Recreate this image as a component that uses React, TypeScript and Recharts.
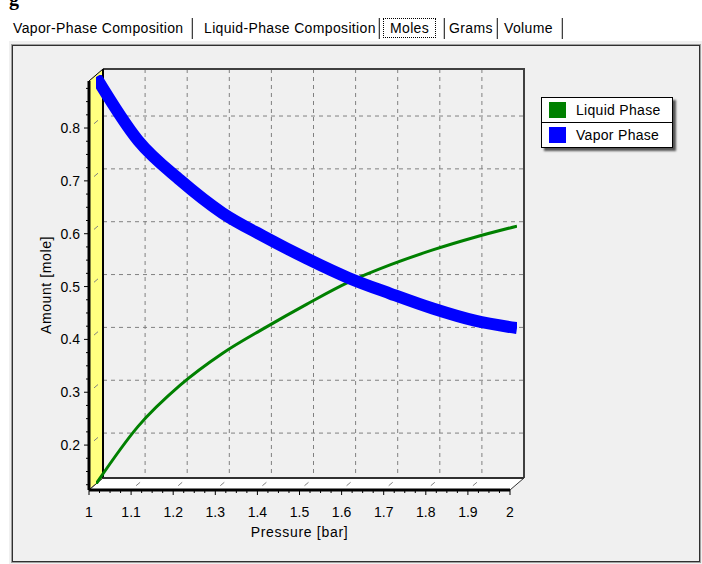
import { CartesianGrid, Legend, Line, LineChart, XAxis, YAxis } from "recharts";

// pressure [bar] and amounts [mole]
const pressure = [1, 1.1, 1.2, 1.3, 1.4, 1.5, 1.6, 1.7, 1.8, 1.9, 2];
const liquidPhase = [0.115, 0.224, 0.302, 0.362, 0.41, 0.455, 0.497, 0.53, 0.558, 0.582, 0.603];
const vaporPhase = [0.885, 0.765, 0.69, 0.628, 0.583, 0.542, 0.505, 0.475, 0.447, 0.424, 0.41];

const yMajor = [0.2, 0.3, 0.4, 0.5, 0.6, 0.7, 0.8];
const xGrid = [1.1, 1.2, 1.3, 1.4, 1.5, 1.6, 1.7, 1.8, 1.9];
const tabs = ["Vapor-Phase Composition", "Liquid-Phase Composition", "Moles", "Grams", "Volume"];

const X_DOMAIN: [number, number] = [1, 2];
const Y_DOMAIN: [number, number] = [0.115, 0.889];

const rows = pressure.map((p, i) => ({ pressure: p, liquid: liquidPhase[i], vapor: vaporPhase[i] }));

// minor ticks every 0.025
const xMinor: number[] = [];
for (let i = 0; i <= 40; i++) xMinor.push(Math.round((1 + i * 0.025) * 1000) / 1000);
const yMinor: number[] = [];
for (let i = 5; i <= 35; i++) yMinor.push(Math.round(i * 25) / 1000);

const W = 702;
const H = 564;
const margin = { top: 81, right: 192, bottom: 44, left: 39 };
const PL = 89, PR = 510, PT = 81, PB = 490; // front plot box
const DX = 14, DY = -12; // depth of the 3d box
const FONT = "'Liberation Sans', Arial, sans-serif";

const isMajor = (v: number) => Math.abs(v * 10 - Math.round(v * 10)) < 1e-6;

const XTick = (props: any) => {
  const { x, payload } = props;
  const major = isMajor(payload.value);
  return (
    <g>
      <line x1={x} x2={x} y1={PB} y2={PB + (major ? 5 : 3)} stroke="#000" />
      {major && (
        <text x={x} y={PB + 27} textAnchor="middle" fontSize={14} fontFamily={FONT} fill="#000">
          {String(payload.value)}
        </text>
      )}
    </g>
  );
};

const YTick = (props: any) => {
  const { y, payload } = props;
  const major = isMajor(payload.value);
  return (
    <g>
      <line x1={PL - (major ? 5 : 3)} x2={PL} y1={y} y2={y} stroke="#000" />
      {major && (
        <text x={PL - 9} y={y + 5} textAnchor="end" fontSize={14} fontFamily={FONT} fill="#000">
          {String(payload.value)}
        </text>
      )}
    </g>
  );
};

const NoTick = () => <g />;

const LegendBox = (props: any) => {
  const items = props.payload || [];
  return (
    <div
      style={{
        width: 130,
        background: "#fff",
        border: "1px solid #000",
        boxShadow: "3px 3px 2px #555",
        fontFamily: FONT,
        fontSize: 14,
        letterSpacing: 0.3,
      }}
    >
      {items.map((it: any, i: number) => (
        <div
          key={it.value}
          style={{
            height: 24,
            display: "flex",
            alignItems: "center",
            borderTop: i > 0 ? "1px solid #000" : "none",
          }}
        >
          <div style={{ width: 17, height: 16, background: it.color, marginLeft: 7, marginRight: 10 }} />
          <span>{it.value}</span>
        </div>
      ))}
    </div>
  );
};

const layer = (dx: number, dy: number): React.CSSProperties => ({
  position: "absolute",
  left: dx,
  top: dy,
  width: W,
  height: H,
});

const floorDash = xGrid.map((v) => PL + ((v - 1) / (X_DOMAIN[1] - X_DOMAIN[0])) * (PR - PL));
const wallDash = yMajor.map((v) => PB - ((v - Y_DOMAIN[0]) / (Y_DOMAIN[1] - Y_DOMAIN[0])) * (PB - PT));

export default function App() {
  const tabLeft = [13, 204, 383, 449, 504];
  const sepLeft = [191, 378, 443, 496, 561];
  return (
    <div style={{ position: "absolute", left: 0, top: 0, width: W, height: H, background: "#fff", overflow: "hidden" }}>
      <div style={{ position: "absolute", left: 9, top: -13, fontFamily: "serif", fontWeight: "bold", fontSize: 20 }}>g</div>

      {tabs.map((t, i) => (
        <div
          key={t}
          style={{
            position: "absolute",
            left: tabLeft[i],
            top: t === "Moles" ? 18 : 19,
            height: 18,
            lineHeight: "18px",
            fontFamily: FONT,
            fontSize: 14,
            letterSpacing: 0.35,
            color: "#000",
            whiteSpace: "nowrap",
            border: t === "Moles" ? "1px dotted #000" : "none",
            padding: t === "Moles" ? "0 6px" : 0,
          }}
        >
          {t}
        </div>
      ))}
      {sepLeft.map((x) => (
        <div key={x} style={{ position: "absolute", left: x, top: 18, width: 1, height: 21, background: "#404040", borderLeft: "1px solid #c8c8c8" }} />
      ))}

      <div style={{ position: "absolute", left: 8, top: 40, width: 694, height: 524, background: "#f0f0f0", borderTop: "1px solid #fff", borderLeft: "1px solid #fff" }} />
      <div style={{ position: "absolute", left: 12, top: 45, width: 686, height: 515, border: "1px solid #303030", outline: "1px solid #a0a0a0" }} />

      {/* back wall grid */}
      <div style={layer(DX, DY)}>
        <LineChart width={W} height={H} data={rows} margin={margin}>
          <CartesianGrid stroke="#808080" strokeDasharray="4 4" fill="none" />
          <XAxis dataKey="pressure" type="number" domain={X_DOMAIN} ticks={xGrid} interval={0} allowDataOverflow height={30} tick={<NoTick />} tickLine={false} axisLine={false} />
          <YAxis type="number" domain={Y_DOMAIN} ticks={yMajor} interval={0} allowDataOverflow width={50} tick={<NoTick />} tickLine={false} axisLine={false} />
          <Line dataKey="liquid" stroke="none" dot={false} isAnimationActive={false} />
        </LineChart>
      </div>

      {/* 3d box walls */}
      <svg style={layer(0, 0)} width={W} height={H}>
        <polygon points={`${PL},${PB} ${PL},${PT} ${PL + DX},${PT + DY} ${PL + DX},${PB + DY}`} fill="#ffff80" stroke="#000" />
        <polygon points={`${PL},${PB} ${PR},${PB} ${PR + DX},${PB + DY} ${PL + DX},${PB + DY}`} fill="#fff" stroke="#333" />
        <polyline points={`${PL + DX},${PT + DY} ${PR + DX},${PT + DY} ${PR + DX},${PB + DY}`} fill="none" stroke="#404040" strokeWidth={2} />
        <line x1={PL + DX} y1={PT + DY} x2={PL + DX} y2={PB + DY} stroke="#000" strokeWidth={2} />
        <line x1={PL + DX} y1={PB + DY} x2={PR + DX} y2={PB + DY} stroke="#303030" strokeWidth={2} />
        {floorDash.map((x) => (
          <line key={x} x1={x + 5} y1={PB - 4.3} x2={x + 9} y2={PB - 7.7} stroke="#808080" />
        ))}
        {wallDash.map((y) => (
          <line key={y} x1={PL + 5} y1={y - 4.3} x2={PL + 9} y2={y - 7.7} stroke="#808080" />
        ))}
      </svg>

      {/* series, drawn half way into the box */}
      <div style={layer(DX / 2, DY / 2)}>
        <LineChart width={W} height={H} data={rows} margin={margin}>
          <XAxis dataKey="pressure" type="number" domain={X_DOMAIN} allowDataOverflow height={30} tick={false} tickLine={false} axisLine={false} />
          <YAxis type="number" domain={Y_DOMAIN} allowDataOverflow width={50} tick={false} tickLine={false} axisLine={false} />
          <Line type="monotone" dataKey="liquid" name="Liquid Phase" stroke="#008000" strokeWidth={3} dot={false} isAnimationActive={false} />
          <Line type="monotone" dataKey="vapor" name="Vapor Phase" stroke="#0000ff" strokeWidth={12} dot={false} isAnimationActive={false} />
          <Legend
            layout="horizontal"
            verticalAlign="middle"
            align="center"
            content={LegendBox}
            wrapperStyle={{ left: 541 - DX / 2, top: 97 - DY / 2, width: 132 }}
          />
        </LineChart>
      </div>

      {/* front axes */}
      <div style={layer(0, 0)}>
        <LineChart width={W} height={H} data={rows} margin={margin}>
          <XAxis
            dataKey="pressure"
            type="number"
            domain={X_DOMAIN}
            ticks={xMinor}
            interval={0}
            allowDataOverflow
            height={30}
            tick={<XTick />}
            tickLine={false}
            axisLine={{ stroke: "#000", strokeWidth: 3 }}
            label={{
              value: "Pressure [bar]",
              content: () => (
                <text x={(PL + PR) / 2} y={537} textAnchor="middle" fontSize={14} letterSpacing={0.7} fontFamily={FONT} fill="#000">
                  Pressure [bar]
                </text>
              ),
            }}
          />
          <YAxis
            type="number"
            domain={Y_DOMAIN}
            ticks={yMinor}
            interval={0}
            allowDataOverflow
            width={50}
            tick={<YTick />}
            tickLine={false}
            axisLine={{ stroke: "#000", strokeWidth: 3 }}
            label={{
              value: "Amount [mole]",
              content: () => (
                <text
                  x={46}
                  y={285}
                  transform="rotate(-90 46 285)"
                  textAnchor="middle"
                  dominantBaseline="central"
                  fontSize={14}
                  letterSpacing={0.6}
                  fontFamily={FONT}
                  fill="#000"
                >
                  Amount [mole]
                </text>
              ),
            }}
          />
        </LineChart>
      </div>
    </div>
  );
}
